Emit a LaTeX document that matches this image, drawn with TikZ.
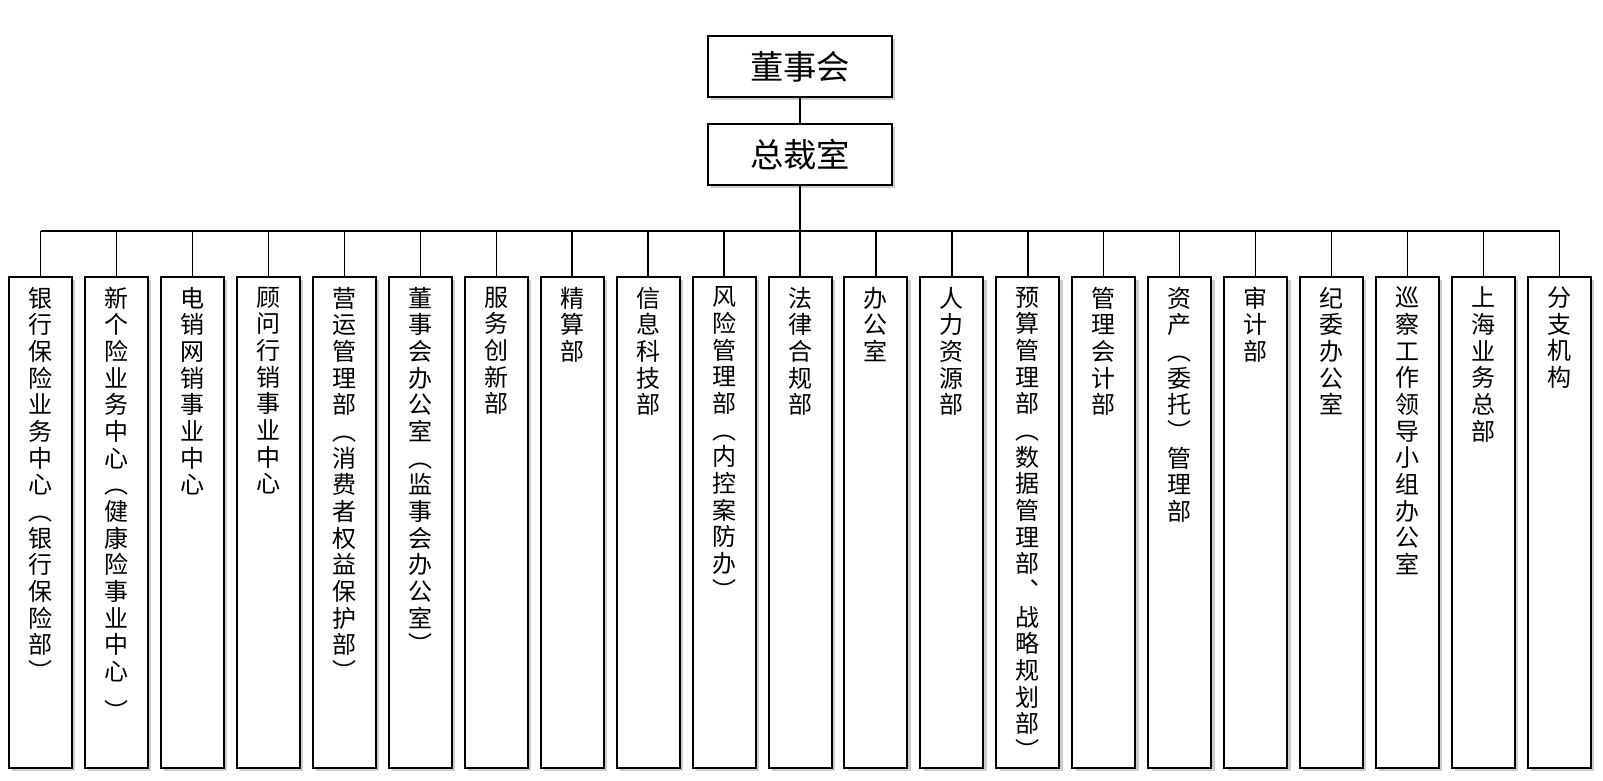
\documentclass[tikz,border=0pt]{standalone}
\usepackage{fontspec}
\usepackage{tikz}
\usetikzlibrary{positioning, shadows}
\newfontfamily\cjk{Noto Sans CJK SC}
\definecolor{shadowgray}{RGB}{205, 205, 205}

% one character per line, ( ) as vertical brackets, ~ as half gap
\def\vcharsend{}
\def\vbufapp#1{\expandafter\def\expandafter\vbuf\expandafter{\vbuf#1}}
\newcommand{\vchars}[1]{\def\vbuf{}\def\vsep{}\expandafter\vcharsaux#1\vcharsend\vbuf}
\def\vcharsaux#1{\ifx#1\vcharsend\else\vcharsone#1\expandafter\vcharsaux\fi}
\def\vcharsone#1{%
  \ifx#1~\def\vsep{\\[10pt]}%
  \else
    \expandafter\vbufapp\expandafter{\vsep}%
    \ifx#1(\vbufapp{︵}\else\ifx#1)\vbufapp{︶}\else\vbufapp{#1}\fi\fi
    \def\vsep{\\}%
  \fi}

\begin{document}
\begin{tikzpicture}[
    x=0.75pt, y=-0.75pt,
    node distance=18.75pt,
    box/.style={rectangle, draw, line width=1.5pt, fill=white, drop shadow={shadow xshift=2.5pt, shadow yshift=-2.5pt, fill=shadowgray, opacity=1}},
    topbox/.style={box, minimum width=138pt, minimum height=45.75pt, font=\cjk\fontsize{25}{30}\selectfont},
    deptbox/.style={box, minimum width=47.25pt, minimum height=368.25pt, inner sep=0pt},
    depttext/.style={align=center, inner sep=0pt, font=\cjk\fontsize{18}{20}\selectfont},
    link/.style={line width=1pt},
    trunk/.style={line width=2.2pt},
    busline/.style={line width=1.6pt}
]
\useasboundingbox (0,0) rectangle (1603,781);

% Top levels
\node[topbox] (board) at (800, 66.5) {董事会};
\node[topbox, below=of board] (president) {总裁室};

% Departments
\foreach \txt [count=\i] in {{银行保险业务中心(银行保险部)}, {新个险业务中心(健康险事业中心~)},
    {电销网销事业中心}, {顾问行销事业中心}, {营运管理部(消费者权益保护部)},
    {董事会办公室(监事会办公室)}, {服务创新部}, {精算部}, {信息科技部},
    {风险管理部(内控案防办)}, {法律合规部}, {办公室}, {人力资源部},
    {预算管理部(数据管理部︑战略规划部)}, {管理会计部}, {资产(委托)管理部},
    {审计部}, {纪委办公室}, {巡察工作领导小组办公室}, {上海业务总部}, {分支机构}} {
  \node[deptbox, anchor=north] (dept\i) at ({40.5+(\i-1)*75.95}, 276) {};
  \node[depttext, below=8pt of dept\i.north] (lbl\i) {\vchars\txt};
}

% Connectors
\coordinate (bus) at (800, 231);
\draw[link] (board) -- (president);
\draw[trunk] (president) -- (president |- bus);
\draw[busline] (dept1.north |- bus) -- (dept21.north |- bus);
\foreach \i in {1,...,21}
  \draw[link] (dept\i.north |- bus) -- (dept\i.north);

\end{tikzpicture}
\end{document}
